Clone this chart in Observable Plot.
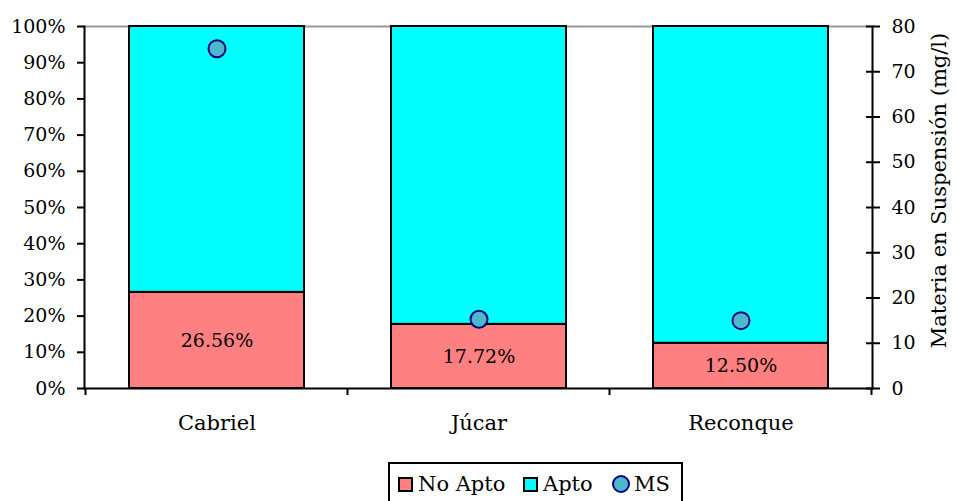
<!DOCTYPE html>
<html><head><meta charset="utf-8">
<script src="https://cdn.jsdelivr.net/npm/d3@7"></script>
<script src="https://cdn.jsdelivr.net/npm/@observablehq/plot@0.6"></script>
<style>
body{margin:0;background:#fff;font-family:"DejaVu Serif",serif;}
#legend{position:absolute;left:388px;top:462px;width:295px;height:40px;border:2px solid #000;border-bottom:none;box-sizing:border-box;font-size:21px;color:#000;}
#legend .it{position:absolute;top:0;height:40px;display:flex;align-items:center;white-space:nowrap;}
#legend .sw{display:inline-block;width:15px;height:15px;border:2px solid #000;box-sizing:border-box;margin-right:5px;}
#legend .ci{display:inline-block;width:18px;height:18px;border:2.5px solid #000080;border-radius:50%;background:#4BB8CC;box-sizing:border-box;margin-right:4px;}
</style></head>
<body><div id="chart"></div>
<script>
const categories = ["Cabriel", "Júcar", "Reconque"];
const noApto = [26.56, 17.72, 12.50];
const ms = [75.1, 15.3, 15.0];
const leftTicks = [0, 10, 20, 30, 40, 50, 60, 70, 80, 90, 100];
const rightTicks = [0, 10, 20, 30, 40, 50, 60, 70, 80];
const msMax = 80;
const colNoApto = "#FF8080", colApto = "#00FFFF", colMS = "#4BB8CC", colMSStroke = "#000080";

const rows = categories.map((c, i) => ({cat: c, noApto: noApto[i], ms: ms[i]}));

const boundaryTicks = (index, scales, values, dims) => {
  const x = scales.x;
  const step = x.step(), bw = x.bandwidth();
  const bounds = categories.map(c => x(c) + bw / 2 - step / 2)
    .concat([x(categories[categories.length - 1]) + bw / 2 + step / 2]);
  const y0 = dims.height - dims.marginBottom;
  const g = d3.create("svg:g");
  bounds.forEach(b => g.append("line").attr("x1", b).attr("x2", b).attr("y1", y0).attr("y2", y0 + 7)
    .attr("stroke", "#000").attr("stroke-width", 2));
  return g.node();
};

const plot = Plot.plot({
  width: 956, height: 455,
  marginLeft: 84, marginRight: 84, marginTop: 26, marginBottom: 67,
  style: {fontFamily: "DejaVu Serif, serif", fontSize: "19px", color: "#000", background: "#fff"},
  x: {domain: categories, paddingInner: 0.3333, paddingOuter: 0.16667, label: null},
  y: {domain: [0, 1], label: null},
  marks: [
    Plot.ruleY([1], {stroke: "#999", strokeWidth: 2}),
    Plot.barY(rows, {x: "cat", y1: 0, y2: d => d.noApto / 100, fill: colNoApto, stroke: "#000", strokeWidth: 2}),
    Plot.barY(rows, {x: "cat", y1: d => d.noApto / 100, y2: 1, fill: colApto, stroke: "#000", strokeWidth: 2}),
    Plot.text(rows, {x: "cat", y: d => d.noApto / 200, text: d => d.noApto.toFixed(2) + "%", fontSize: 19, fill: "#000"}),
    Plot.dot(rows, {x: "cat", y: d => d.ms / msMax, r: 8.5, fill: colMS, stroke: colMSStroke, strokeWidth: 2}),
    Plot.frame({anchor: "left", stroke: "#000", strokeWidth: 2}),
    Plot.frame({anchor: "right", stroke: "#000", strokeWidth: 2}),
    Plot.frame({anchor: "bottom", stroke: "#000", strokeWidth: 2}),
    Plot.axisY(leftTicks.map(v => v / 100), {anchor: "left", tickSize: 7, tickPadding: 12, strokeWidth: 2, fontSize: 19, tickFormat: v => Math.round(v * 100) + "%"}),
    Plot.axisY(rightTicks.map(v => v / msMax), {anchor: "right", tickSize: 14, dx: -7, strokeWidth: 2, tickFormat: () => ""}),
    Plot.axisY(rightTicks.map(v => v / msMax), {anchor: "right", tickSize: 0, tickPadding: 19, fontSize: 19, tickFormat: v => String(Math.round(v * msMax)), label: null}),
    Plot.axisX({tickSize: 0, tickPadding: 27, fontSize: 21, label: null}),
    boundaryTicks,
    Plot.text(["Materia en Suspensión (mg/l)"], {frameAnchor: "right", textAnchor: "middle", dx: 67, dy: -17, rotate: -90, fontSize: 21, fill: "#000"})
  ]
});
document.getElementById("chart").appendChild(plot);
</script>
<div id="legend">
  <span class="it" style="left:8px"><span class="sw" style="background:#FF8080"></span>No Apto</span>
  <span class="it" style="left:133px"><span class="sw" style="background:#00FFFF"></span>Apto</span>
  <span class="it" style="left:222px"><span class="ci"></span>MS</span>
</div>
</body></html>
